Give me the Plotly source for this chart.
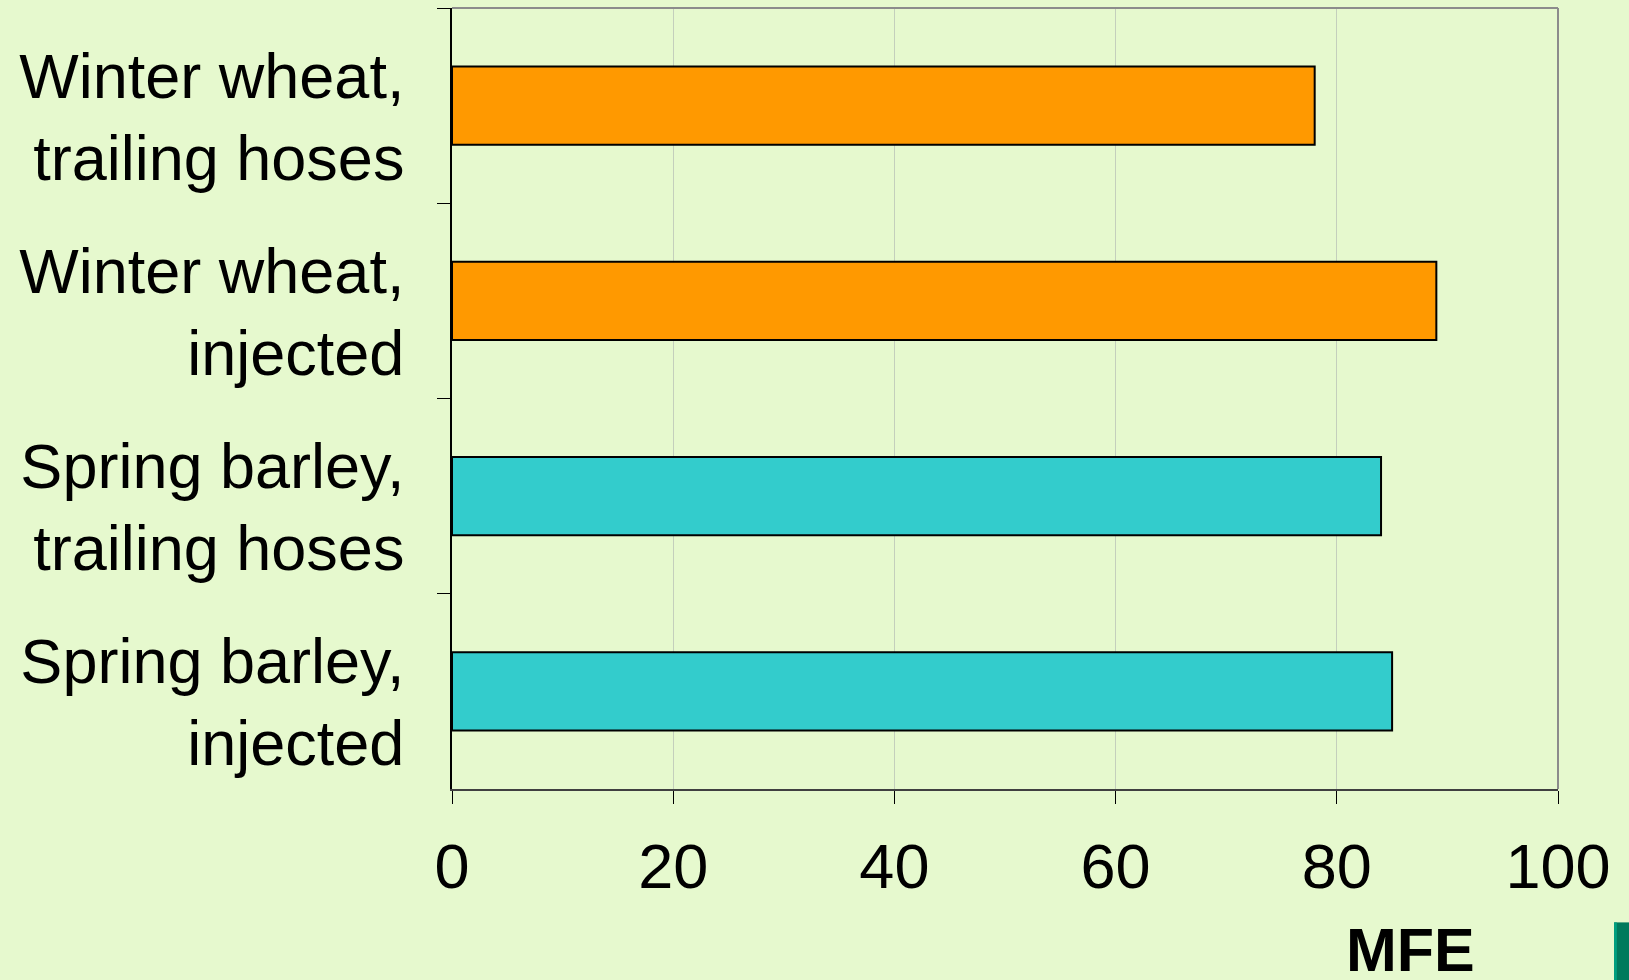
import plotly.graph_objects as go

# Mineral fertiliser equivalent (MFE, %) by crop and application method
categories = [
    "Winter wheat,<br>trailing hoses",
    "Winter wheat,<br>injected",
    "Spring barley,<br>trailing hoses",
    "Spring barley,<br>injected",
]
mfe_values = [78, 89, 84, 85]
bar_colors = ["#FF9900", "#FF9900", "#33CCCC", "#33CCCC"]
x_ticks = [0, 20, 40, 60, 80, 100]

BG = "#E6F9CE"
FONT = "Liberation Sans, Arial, sans-serif"

fig = go.Figure(
    go.Bar(
        x=mfe_values,
        y=categories,
        orientation="h",
        marker=dict(color=bar_colors, line=dict(color="#000000", width=2)),
        width=0.4,
        hoverinfo="skip",
    )
)

fig.update_layout(
    width=1629,
    height=980,
    margin=dict(l=452, r=71, t=8, b=191),
    paper_bgcolor=BG,
    plot_bgcolor=BG,
    showlegend=False,
    font=dict(family=FONT, size=62, color="#000000"),
    shapes=[
        # plot frame (top and right edges)
        dict(type="line", xref="paper", yref="paper", x0=0, x1=1, y0=1, y1=1,
             line=dict(color="#8C8C8C", width=2)),
        dict(type="line", xref="paper", yref="paper", x0=1, x1=1, y0=0, y1=1,
             line=dict(color="#8C8C8C", width=2)),
        # corner accent in the lower right of the page
        dict(type="rect", xref="paper", yref="paper", x0=1.0507, x1=1.0642,
             y0=-0.1708, y1=-0.2484, line=dict(width=0), fillcolor="#007A5C",
             layer="above"),
        dict(type="rect", xref="paper", yref="paper", x0=1.0507, x1=1.0532,
             y0=-0.1708, y1=-0.2484, line=dict(width=0), fillcolor="#00A080",
             layer="above"),
    ],
    annotations=[
        dict(text="<b>MFE</b>", xref="paper", yref="paper", x=0.867, y=-0.16,
             xanchor="center", yanchor="top", showarrow=False,
             font=dict(family=FONT, size=61, color="#000000")),
    ],
)

fig.update_xaxes(
    range=[0, 100],
    tickvals=x_ticks,
    showgrid=True,
    gridcolor="#C4CFBC",
    gridwidth=1,
    zeroline=False,
    showline=True,
    linecolor="#404040",
    linewidth=2,
    ticks="outside",
    ticklen=13,
    tickcolor="#000000",
    tickwidth=1,
    ticklabelstandoff=8,
    tickfont=dict(size=63),
)

fig.update_yaxes(
    categoryorder="array",
    categoryarray=categories,
    autorange="reversed",
    showgrid=False,
    zeroline=False,
    showline=True,
    linecolor="#000000",
    linewidth=2,
    ticks="outside",
    tickson="boundaries",
    ticklen=13,
    tickcolor="#000000",
    tickwidth=1,
    ticklabelstandoff=33,
    ticklabelshift=-11,
    tickfont=dict(size=63),
)

fig.write_html("out.html")
